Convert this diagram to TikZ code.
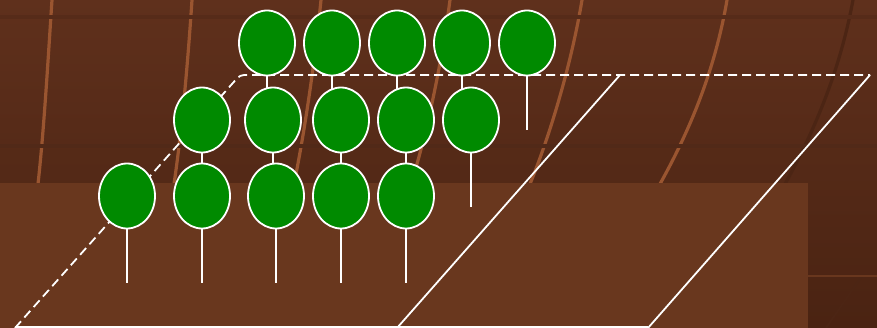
\documentclass[tikz,border=0pt]{standalone}
\usetikzlibrary{shapes.geometric}
\definecolor{bgtop}{HTML}{5F301C}
\definecolor{bgbot}{HTML}{4A2312}
\definecolor{floor}{HTML}{69371E}
\definecolor{grain}{HTML}{9A5530}
\definecolor{darkgrain}{HTML}{4C2514}
\definecolor{leaf}{HTML}{008A00}
\tikzset{
  tree/.style={ellipse,draw=white,line width=1.8pt,fill=leaf,minimum width=56pt,minimum height=65pt,inner sep=0pt},
  trunk/.style={draw=white,line width=2pt},
  edge/.style={draw=white,line width=1.8pt},
  woodline/.style={draw=grain,line width=3.2pt}
}
\begin{document}
\begin{tikzpicture}[x=1pt,y=-1pt]
\useasboundingbox (0,0) rectangle (877,328);
% background
\shade[top color=bgtop,bottom color=bgbot] (0,0) rectangle (877,328);
\draw[woodline] (52,0) .. controls (48,60) and (44,130) .. (38,184);
\draw[woodline] (192,0) .. controls (188,60) and (182,130) .. (174,184);
\draw[woodline] (321,0) .. controls (315,60) and (305,130) .. (294,184);
\draw[woodline] (450,0) .. controls (442,60) and (428,130) .. (411,184);
\draw[woodline] (582,0) .. controls (572,60) and (552,130) .. (530,184);
\draw[woodline] (727,0) .. controls (715,70) and (690,130) .. (660,184);
\draw[draw=darkgrain,line width=3.2pt] (853,0) .. controls (840,70) and (815,130) .. (785,184);
\draw[draw=darkgrain,line width=2pt] (862,276) -- (826,328);
\draw[draw=bgtop!90!black,line width=3.5pt] (0,17) -- (877,17);
\draw[draw=bgtop!85!black,line width=3.5pt] (0,146) -- (877,146);
\draw[draw=floor,line width=2pt] (808,276) -- (877,276);
\fill[floor] (0,183) rectangle (808,328);

% plot outline
\draw[edge,dash pattern=on 9pt off 5pt,rounded corners=4pt] (15,328) -- (240,75) -- (870,75);
\draw[edge] (870,75) -- (648,328);
\draw[edge] (620,75) -- (397,328);
\draw[edge] (15,327) -- (648,327);

% back row
\node[tree] (a1) at (267,43) {};
\node[tree] (a2) at (332,43) {};
\node[tree] (a3) at (397,43) {};
\node[tree] (a4) at (462,43) {};
\node[tree] (a5) at (527,43) {};
\draw[trunk] (a1.south) -- ++(0,54);
\draw[trunk] (a2.south) -- ++(0,54);
\draw[trunk] (a3.south) -- ++(0,54);
\draw[trunk] (a4.south) -- ++(0,54);
\draw[trunk] (a5.south) -- ++(0,54);

% middle row
\node[tree] (b1) at (202,120) {};
\node[tree] (b2) at (273,120) {};
\node[tree] (b3) at (341,120) {};
\node[tree] (b4) at (406,120) {};
\node[tree] (b5) at (471,120) {};
\draw[trunk] (b1.south) -- ++(0,54);
\draw[trunk] (b2.south) -- ++(0,54);
\draw[trunk] (b3.south) -- ++(0,54);
\draw[trunk] (b4.south) -- ++(0,54);
\draw[trunk] (b5.south) -- ++(0,54);

% front row
\node[tree] (c1) at (127,196) {};
\node[tree] (c2) at (202,196) {};
\node[tree] (c3) at (276,196) {};
\node[tree] (c4) at (341,196) {};
\node[tree] (c5) at (406,196) {};
\draw[trunk] (c1.south) -- ++(0,54);
\draw[trunk] (c2.south) -- ++(0,54);
\draw[trunk] (c3.south) -- ++(0,54);
\draw[trunk] (c4.south) -- ++(0,54);
\draw[trunk] (c5.south) -- ++(0,54);
\end{tikzpicture}
\end{document}
